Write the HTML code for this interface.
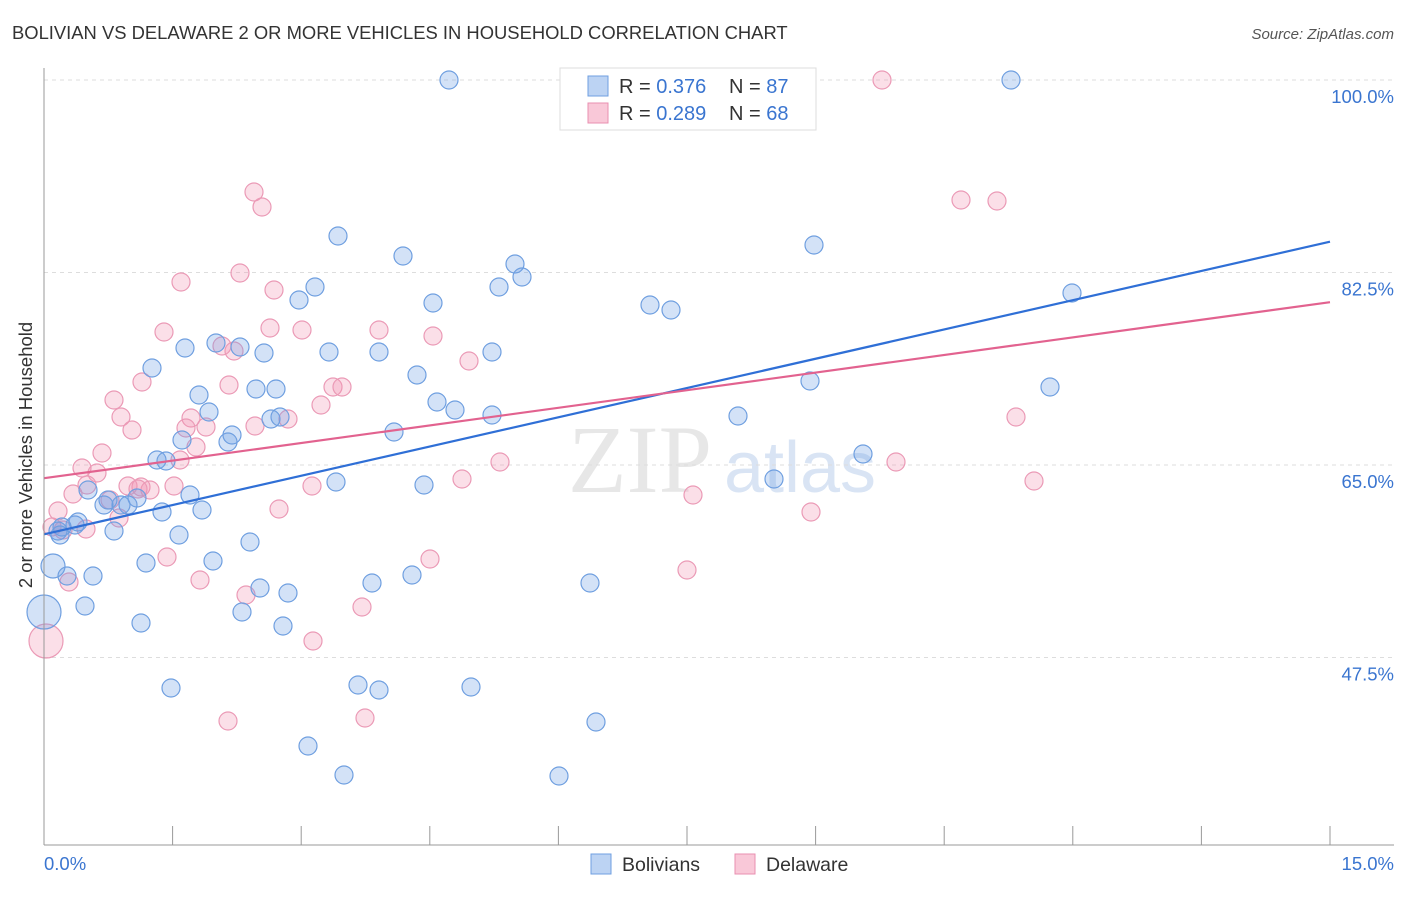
<!DOCTYPE html>
<html><head><meta charset="utf-8"><style>
body{margin:0;background:#fff;font-family:"Liberation Sans",sans-serif;}
</style></head><body>
<svg id="c" width="1406" height="892" xmlns="http://www.w3.org/2000/svg">
<text x="12" y="39" font-size="18.4" fill="#333">BOLIVIAN VS DELAWARE 2 OR MORE VEHICLES IN HOUSEHOLD CORRELATION CHART</text>
<text x="1394" y="39" font-size="15" fill="#555" font-style="italic" text-anchor="end">Source: ZipAtlas.com</text>
<text x="32" y="455" font-size="18.5" fill="#333" text-anchor="middle" transform="rotate(-90 32 455)">2 or more Vehicles in Household</text>
<text x="640" y="492" font-size="96" fill="#ddd" font-family="Liberation Serif,serif" text-anchor="middle" opacity="0.7">ZIP</text>
<text x="800" y="492" font-size="72" fill="#c9daf0" text-anchor="middle" opacity="0.7">atlas</text>
<g id="grid"></g><g id="pts"></g><g id="lines"></g>
<line x1="44" y1="68" x2="44" y2="845" stroke="#999"/>
<line x1="44" y1="845" x2="1394" y2="845" stroke="#999"/>
<text x="44" y="870" font-size="18.5" fill="#3a75d0">0.0%</text>
<text x="1394" y="870" font-size="18.5" fill="#3a75d0" text-anchor="end">15.0%</text>
<g>
<rect x="560" y="68" width="256" height="62" fill="#fff" stroke="#ddd"/>
<rect x="588" y="76" width="20" height="20" fill="#bcd3f3" stroke="#6f9fe0"/>
<rect x="588" y="103" width="20" height="20" fill="#f9c8d8" stroke="#e98fb0"/>
<text x="619" y="93" font-size="20" fill="#333">R = <tspan fill="#3a75d0">0.376</tspan><tspan x="729">N = </tspan><tspan fill="#3a75d0">87</tspan></text>
<text x="619" y="120" font-size="20" fill="#333">R = <tspan fill="#3a75d0">0.289</tspan><tspan x="729">N = </tspan><tspan fill="#3a75d0">68</tspan></text>
</g>
<g>
<rect x="591" y="854" width="20" height="20" fill="#bcd3f3" stroke="#6f9fe0"/>
<text x="622" y="871" font-size="19.5" fill="#333">Bolivians</text>
<rect x="735" y="854" width="20" height="20" fill="#f9c8d8" stroke="#e98fb0"/>
<text x="766" y="871" font-size="19.5" fill="#333">Delaware</text>
</g>
</svg>
<script>
const yTicks=[100,82.5,65,47.5];
const yTickLabels=["100.0%","82.5%","65.0%","47.5%"];
const blueX=[449,1011,338,403,814,515,522,499,315,299,433,650,671,1072,185,216,240,264,329,379,492,152,417,810,1050,199,256,276,437,455,209,271,280,492,738,232,228,182,394,157,166,863,774,336,424,88,190,108,137,128,121,104,162,202,62,75,78,114,58,60,179,250,53,213,146,67,93,412,372,590,260,288,85,242,141,283,44,171,358,379,471,596,308,344,559];
const blueY=[80,80,236,256,245,264,277,287,287,300,303,305,310,293,348,343,347,353,352,352,352,368,375,381,387,395,389,389,402,410,412,419,417,415,416,435,442,440,432,460,461,454,479,482,485,490,495,500,498,505,505,505,512,510,527,525,522,531,531,535,535,542,566,561,563,576,576,575,583,583,588,593,606,612,623,626,612,688,685,690,687,722,746,775,776];
const pinkX=[882,254,262,961,997,181,240,274,164,270,302,379,433,222,234,469,142,229,333,342,114,321,121,191,132,186,206,255,288,1016,196,180,102,82,97,500,896,462,1034,87,174,312,141,128,150,73,138,693,110,279,811,58,119,86,63,52,167,430,687,200,69,246,362,313,46,228,365];
const pinkY=[80,192,207,200,201,282,273,290,332,328,330,330,336,346,351,361,382,385,387,387,400,405,417,418,430,428,427,426,419,417,447,460,453,468,473,462,462,479,481,485,486,486,487,486,490,494,489,495,500,509,512,511,518,529,530,527,557,559,570,580,582,595,607,641,641,721,718];
const xs=p=>(p-44)/85.733, ys=p=>100-(p-80)/11;
const blueXv=blueX.map(xs), blueYv=blueY.map(ys), pinkXv=pinkX.map(xs), pinkYv=pinkY.map(ys);
const blueLine=[[0,58.7],[15,85.3]], pinkLine=[[0,63.8],[15,79.8]];
const X=v=>44+v*85.733, Y=v=>80+(100-v)*11;
const NS="http://www.w3.org/2000/svg";
function mk(t,a,parent){const e=document.createElementNS(NS,t);for(const k in a)e.setAttribute(k,a[k]);parent.appendChild(e);return e;}
const grid=document.getElementById('grid'),svg=document.getElementById('c');
yTicks.forEach((t,i)=>{
 const l=mk('line',{x1:44,x2:1394,y1:Y(t),y2:Y(t),stroke:'#ddd','stroke-dasharray':'4,4'},grid);
 
 
 const tx=mk('text',{x:1394,y:Y(t)+23,'font-size':18.5,fill:'#3a75d0','text-anchor':'end'},svg);
 tx.textContent=yTickLabels[i];
 
 
});
for(let i=1;i<=10;i++){const l=mk('line',{x1:X(i*1.5),x2:X(i*1.5),y1:826,y2:845,stroke:'#999'},grid);
 
 }
const pts=document.getElementById('pts');
function big(x,y){if(x<0.05&&y<52&&y>46)return 17;if(x<0.15&&y>55.5&&y<57)return 12;return 9;}
pinkXv.forEach((v,i)=>{const c=mk('circle',{cx:X(v),cy:Y(pinkYv[i]),r:big(v,pinkYv[i]),fill:'rgba(242,150,180,0.3)',stroke:'#eb9ab6','stroke-width':1.2},pts);
 
 });
blueXv.forEach((v,i)=>{const c=mk('circle',{cx:X(v),cy:Y(blueYv[i]),r:big(v,blueYv[i]),fill:'rgba(110,160,230,0.3)',stroke:'#6f9fe0','stroke-width':1.2},pts);
 
 });
const lines=document.getElementById('lines');
const bl=mk('line',{x1:X(blueLine[0][0]),y1:Y(blueLine[0][1]),x2:X(blueLine[1][0]),y2:Y(blueLine[1][1]),stroke:'#2f6fd6','stroke-width':2.2},lines);


const pl=mk('line',{x1:X(pinkLine[0][0]),y1:Y(pinkLine[0][1]),x2:X(pinkLine[1][0]),y2:Y(pinkLine[1][1]),stroke:'#e2628f','stroke-width':2.2},lines);


</script>
</body></html>
